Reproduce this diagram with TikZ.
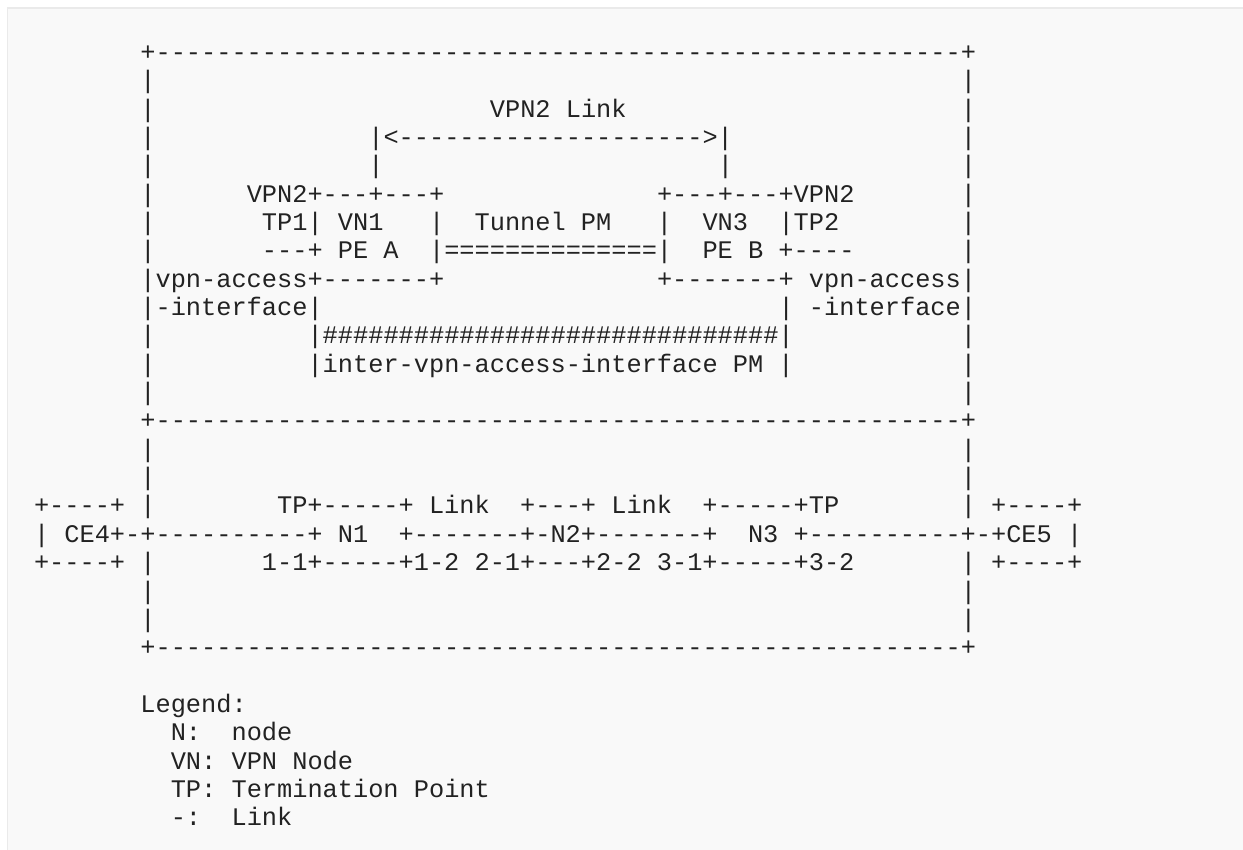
\documentclass[tikz,border=0pt]{standalone}
\usepackage{fontspec}
\setmonofont{Liberation Mono}
\usepackage{tikz}
\definecolor{pagebg}{RGB}{249,249,249}
\definecolor{pagerule}{RGB}{234,234,234}
\definecolor{ink}{RGB}{34,34,34}
\newcommand{\gap}[1]{\hskip#1\fontcharwd\font32\relax}
\newcommand{\rep}[2]{\foreach \k in {1,...,#1}{#2}}
\tikzstyle{ascii}=[anchor=base west, inner sep=0pt, outer sep=0pt, text=ink,
  font=\ttfamily\fontsize{12.66pt}{14pt}\selectfont]
\begin{document}
\begin{tikzpicture}[x=7.6pt, y=-14.175pt]
\useasboundingbox (0,0) rectangle (81.776,29.982);
\fill[pagebg] (0.487,0.282) rectangle (81.776,29.982);
\draw[pagerule, line width=0.8pt] (81.776,0.282) -- (0.487,0.282) -- (0.487,29.982);

\begin{scope}[shift={(2.237,2.13)}]
% VPN layer
\node[ascii] (vpntop) at (7,0) {+\rep{53}{-}+};
\node[ascii] (vpnrow1) at (7,1) {|\gap{53}|};
\node[ascii] (vpnlinklabel) at (7,2) {|\gap{22}VPN2~Link\gap{22}|};
\node[ascii] (vpnlinkarrow) at (7,3) {|\gap{14}|<\rep{20}{-}>|\gap{15}|};
\node[ascii] (vpnlinkstem) at (7,4) {|\gap{14}|\gap{22}|\gap{15}|};
\node[ascii] (vnboxtop) at (7,5) {|\gap{6}VPN2+---+---+\gap{14}+---+---+VPN2\gap{7}|};
\node[ascii] (vnnames) at (7,6) {|\gap{7}TP1|~VN1\gap{3}|\gap{2}Tunnel~PM\gap{3}|\gap{2}VN3\gap{2}|TP2\gap{8}|};
\node[ascii] (tunnelpm) at (7,7) {|\gap{7}---+~PE~A\gap{2}|\rep{14}{=}|\gap{2}PE~B~+----\gap{7}|};
\node[ascii] (vnboxbottom) at (7,8) {|vpn-access+\rep{7}{-}+\gap{14}+\rep{7}{-}+~vpn-access|};
\node[ascii] (accessif) at (7,9) {|-interface|\gap{30}|~-interface|};
\node[ascii] (interpmbar) at (7,10) {|\gap{10}|\rep{30}{\#}|\gap{11}|};
\node[ascii] (interpm) at (7,11) {|\gap{10}|inter-vpn-access-interface~PM~|\gap{11}|};
\node[ascii] (vpnrow12) at (7,12) {|\gap{53}|};
\node[ascii] (vpnbottom) at (7,13) {+\rep{53}{-}+};

% network layer
\node[ascii] (netrow14) at (7,14) {|\gap{53}|};
\node[ascii] (netrow15) at (7,15) {|\gap{53}|};
\node[ascii] (nodestop) at (0,16) {+----+~|\gap{8}TP+-----+~Link\gap{2}+---+~Link\gap{2}+-----+TP\gap{8}|~+----+};
\node[ascii] (nodesmid) at (0,17) {|~CE4+-+\rep{10}{-}+~N1\gap{2}+\rep{7}{-}+-N2+\rep{7}{-}+\gap{2}N3~+\rep{10}{-}+-+CE5~|};
\node[ascii] (nodesbottom) at (0,18) {+----+~|\gap{7}1-1+-----+1-2~2-1+---+2-2~3-1+-----+3-2\gap{7}|~+----+};
\node[ascii] (netrow19) at (7,19) {|\gap{53}|};
\node[ascii] (netrow20) at (7,20) {|\gap{53}|};
\node[ascii] (netbottom) at (7,21) {+\rep{53}{-}+};

% legend
\node[ascii] (legend) at (7,23) {Legend:};
\node[ascii] (legendn) at (9,24) {N:\gap{2}node};
\node[ascii] (legendvn) at (9,25) {VN:~VPN~Node};
\node[ascii] (legendtp) at (9,26) {TP:~Termination~Point};
\node[ascii] (legendlink) at (9,27) {-:\gap{2}Link};
\end{scope}
\end{tikzpicture}
\end{document}
